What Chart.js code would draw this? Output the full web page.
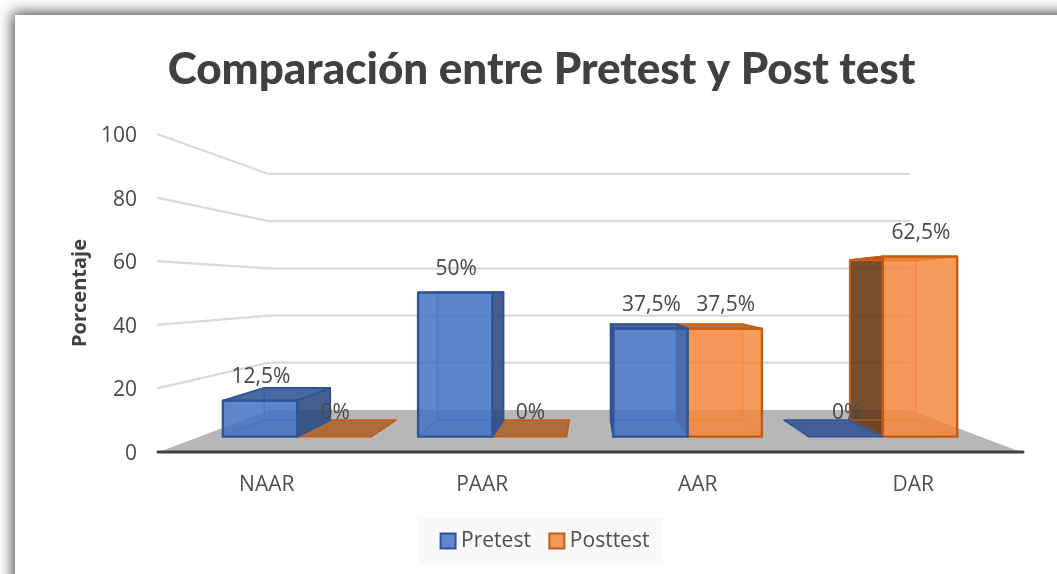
<!DOCTYPE html>
<html><head><meta charset="utf-8">
<style>
html,body{margin:0;padding:0;width:1057px;height:574px;overflow:hidden;background:#fff}
#frame{position:absolute;left:15px;top:15px;width:1200px;height:700px;background:#fff;box-shadow:0 0 13px 3px rgba(0,0,0,.66)}
canvas{position:absolute;left:0;top:0}
</style>
<script src="https://cdn.jsdelivr.net/npm/chart.js@4/dist/chart.umd.min.js"></script>
</head><body>
<div id="frame"></div>
<canvas id="c" width="1057" height="574"></canvas>
<script>
const categories = ['NAAR','PAAR','AAR','DAR'];
const pretest = [12.5,50,37.5,0];
const posttest = [0,0,37.5,62.5];
const pretestLabels = ['12,5%','50%','37,5%','0%'];
const posttestLabels = ['0%','0%','37,5%','62,5%'];
const yTicks = [0,20,40,60,80,100];

const FRONT = .906, BACK = .804, WALL = .742, EYE = 51.3;
const looks = [
 {front:'rgba(68,114,196,.85)',side:'rgba(40,70,125,.85)',top:'rgba(45,80,145,.85)',back:'rgba(68,114,196,.12)',line:'#2F5597',inner:'rgba(47,85,151,.55)'},
 {front:'rgba(245,133,56,.82)',side:'rgba(95,50,15,.85)',top:'rgba(175,90,30,.82)',back:'rgba(237,125,49,.12)',line:'#C55A11',inner:'rgba(215,105,35,.6)'}
];
const texts = [pretestLabels, posttestLabels];

function poly(ctx, pts, fill, stroke, lw){
  ctx.beginPath();
  pts.forEach((p,i)=> i?ctx.lineTo(p[0],p[1]):ctx.moveTo(p[0],p[1]));
  ctx.closePath();
  if(fill){ctx.fillStyle=fill;ctx.fill();}
  if(stroke){ctx.strokeStyle=stroke;ctx.lineWidth=lw;ctx.lineJoin='round';ctx.stroke();}
}

const scene = {
  id:'scene',
  afterLayout(chart){
    chart.legend.left+=6;chart.legend.right+=6;
  },
  beforeDraw(chart){
    const ctx=chart.ctx;
    ctx.save();ctx.fillStyle='#F9F9F9';ctx.fillRect(419,518,244,46);ctx.restore();
  },
  beforeDatasetsDraw(chart){
    const ctx=chart.ctx, ca=chart.chartArea, ys=chart.scales.y;
    const cx=(ca.left+ca.right)/2, hy=ys.getPixelForValue(EYE);
    const P=(X,Y,s)=>[cx+(X-cx)*s, hy+(Y-hy)*s];
    const base=ys.getPixelForValue(0);
    ctx.save();
    // floor
    poly(ctx,[P(ca.left,base,1),P(ca.left,base,WALL),P(ca.right,base,WALL),P(ca.right,base,1)],'#B7B7B7');
    // gridlines: side wall then back wall
    ctx.strokeStyle='#D9D9D9';ctx.lineWidth=2.2;
    yTicks.filter(v=>v>0).forEach(v=>{
      const Y=ys.getPixelForValue(v);
      const a=[ca.left-2,Y],b=P(ca.left-2,Y,WALL),c=P(ca.right,Y,WALL);
      ctx.beginPath();ctx.moveTo(a[0],a[1]);ctx.lineTo(b[0],b[1]);ctx.lineTo(c[0],c[1]);ctx.stroke();
    });
    // axis line
    ctx.strokeStyle='#404040';ctx.lineWidth=3;ctx.lineCap='round';
    ctx.beginPath();ctx.moveTo(ca.left-1,base);ctx.lineTo(ca.right+2,base);ctx.stroke();
    ctx.lineCap='butt';
    // boxes, later series first so the shared wall shows the earlier colour
    for(let d=chart.data.datasets.length-1;d>=0;d--){
      const lk=looks[d];
      chart.getDatasetMeta(d).data.forEach(el=>{
        const {x,y,width}=el.getProps(['x','y','width'],true);
        const x0=x-width/2,x1=x+width/2;
        const f=(X,Y)=>P(X,Y,FRONT), k=(X,Y)=>P(X,Y,BACK);
        const flat=Math.abs(y-base)<.5;
        if(flat){
          poly(ctx,[f(x0,base),k(x0,base),k(x1,base),f(x1,base)],lk.top,lk.line,1.5);
          return;
        }
        poly(ctx,[k(x0,base),k(x1,base),k(x1,y),k(x0,y)],lk.back);
        poly(ctx,[f(x0,base),k(x0,base),k(x1,base),f(x1,base)],lk.back);
        const sx = x1<cx ? x1 : x0;
        poly(ctx,[f(sx,base),k(sx,base),k(sx,y),f(sx,y)],lk.side,lk.line,2);
        poly(ctx,[f(x0,y),k(x0,y),k(x1,y),f(x1,y)],lk.top,lk.line,2);
        // inner back edges
        poly(ctx,[k(x0,base),k(x1,base),k(x1,y),k(x0,y)],null,lk.inner,1.5);
        [x0,x1].forEach(X=>{const a=f(X,base),b=k(X,base);ctx.strokeStyle=lk.inner;ctx.lineWidth=1.5;ctx.beginPath();ctx.moveTo(a[0],a[1]);ctx.lineTo(b[0],b[1]);ctx.stroke();});
        poly(ctx,[f(x0,base),f(x1,base),f(x1,y),f(x0,y)],lk.front,lk.line,2.4);
      });
    }
    // data labels
    ctx.fillStyle='#484848';ctx.font='21px "Open Sans"';ctx.textAlign='center';ctx.textBaseline='middle';
    chart.data.datasets.forEach((ds,d)=>{
      chart.getDatasetMeta(d).data.forEach((el,i)=>{
        const {x,y}=el.getProps(['x','y'],true);
        const p=P(x,y,FRONT);
        ctx.fillText(texts[d][i],p[0]+1,p[1]-23.5);
      });
    });
    ctx.restore();
    return false;
  }
};

new Chart(document.getElementById('c'),{
  type:'bar',
  data:{labels:categories,datasets:[
    {label:'Pretest',data:pretest,backgroundColor:'#5F86CE',borderColor:'#2F5597',borderWidth:2,barPercentage:1,categoryPercentage:.761,pointStyle:'rect'},
    {label:'Posttest',data:posttest,backgroundColor:'#F1975A',borderColor:'#C55A11',borderWidth:2,barPercentage:1,categoryPercentage:.761,pointStyle:'rect'}
  ]},
  plugins:[scene],
  options:{
    responsive:false,animation:false,
    layout:{padding:{left:62,right:36,top:0,bottom:12.5}},
    plugins:{
      title:{display:true,text:'Comparación entre Pretest y Post test',color:'#404040',
        font:{family:'Lato',size:44,weight:'900',lineHeight:1.2},padding:{top:43.5,bottom:37.7}},
      legend:{position:'bottom',labels:{usePointStyle:true,boxWidth:5,boxHeight:15,padding:23.5,color:'#505050',font:{family:'"Open Sans"',size:21}}},
      tooltip:{enabled:false}
    },
    scales:{
      x:{grid:{display:false,drawTicks:false},border:{display:false},
        ticks:{color:'#505050',font:{family:'"Open Sans"',size:21},padding:20,maxRotation:0},
        afterFit(s){s.height=55;}},
      y:{min:0,max:100,grid:{display:false,drawTicks:false},border:{display:false},
        afterBuildTicks(s){s.ticks=yTicks.map(v=>({value:v}));},
        ticks:{color:'#484848',font:{family:'"Open Sans"',size:21},padding:22,labelOffset:2},
        title:{display:true,text:'Porcentaje',color:'#404040',font:{family:'"Open Sans"',size:20,weight:'bold'},padding:{top:6,bottom:0}},
        afterFit(s){s.width=97;}}
    }
  }
});
</script>
</body></html>
